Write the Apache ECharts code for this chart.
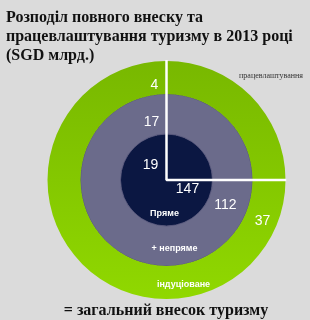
<!DOCTYPE html>
<html>
<head>
<meta charset="utf-8">
<script src="https://cdn.jsdelivr.net/npm/echarts@6/dist/echarts.min.js"></script>
<style>
  html, body { margin: 0; padding: 0; background: #dbdbdb; }
  #chart { width: 310px; height: 320px; }
</style>
</head>
<body>
<div id="chart"></div>
<script>
// рівні внеску: пряме -> непряме -> індуковане
const tiers = ['Пряме', '+ непряме', 'індуціоване']
const contribution = [147, 112, 37]
const employment = [19, 17, 4]
const employmentLabel = 'працевлаштування'
const titleText = 'Розподіл повного внеску та\nпрацевлаштування туризму в 2013 році\n(SGD млрд.)'
const footerText = '= загальний внесок туризму'

const center = [166.5, 180]
const rings = [[0, 46], [46, 86], [86, 119]]
const ringColors = [
  '#0b1742',
  '#6b6b8b',
  new echarts.graphic.LinearGradient(0, 0, 0, 1, [
    { offset: 0, color: '#78b800' },
    { offset: 1, color: '#90d800' },
  ]),
]
const nameOffsets = [[-2, 8], [8, 0], [17, -1]]
// де стоять числа відносно центру
const contribPos = [[21, 9], [59, 25], [96, 41]]
const employPos = [[-16, -15], [-15, -58], [-12, -95]]

const chart = echarts.init(document.getElementById('chart'))

const pies = tiers.map((name, i) => ({
  type: 'pie',
  center,
  radius: rings[i],
  silent: true,
  z: 2,
  startAngle: 90,
  itemStyle: {
    color: ringColors[i],
    borderColor: i === 1 ? '#55557a' : 'transparent',
    borderWidth: i === 1 ? 1 : 0,
  },
  label: {
    show: true,
    position: 'inside',
    color: '#fff',
    fontFamily: 'Liberation Sans',
    fontWeight: 'bold',
    fontSize: 9,
    offset: nameOffsets[i],
    formatter: '{b}',
  },
  labelLine: { show: false },
  data: [{ name, value: contribution[i] }],
}))

const numberTexts = []
contribution.forEach((v, i) => {
  numberTexts.push({
    type: 'text',
    x: center[0] + contribPos[i][0],
    y: center[1] + contribPos[i][1],
    z: 10,
    style: {
      text: String(v), fill: '#fff', fontSize: 14,
      fontFamily: 'Liberation Sans', align: 'center', verticalAlign: 'middle',
    },
  })
})
employment.forEach((v, i) => {
  numberTexts.push({
    type: 'text',
    x: center[0] + employPos[i][0],
    y: center[1] + employPos[i][1],
    z: 10,
    style: {
      text: String(v), fill: '#fff', fontSize: 14,
      fontFamily: 'Liberation Sans', align: 'center', verticalAlign: 'middle',
    },
  })
})

chart.setOption({
  backgroundColor: '#dbdbdb',
  animation: false,
  title: {
    text: titleText,
    left: 1,
    top: 3,
    textStyle: {
      fontFamily: 'Liberation Serif',
      fontWeight: 'bold',
      fontSize: 16,
      lineHeight: 19,
      color: '#111',
    },
  },
  polar: { center, radius: 120 },
  angleAxis: { type: 'value', min: 0, max: 360, startAngle: 90, show: false },
  radiusAxis: { type: 'value', min: 0, max: 120, show: false },
  graphic: [
    ...numberTexts,
    {
      type: 'text',
      x: 271,
      y: 76,
      style: {
        text: employmentLabel, fill: '#333', fontSize: 8,
        fontFamily: 'Liberation Serif', align: 'center', verticalAlign: 'middle',
      },
    },
    {
      type: 'text',
      x: 166,
      y: 311,
      style: {
        text: footerText, fill: '#111', fontSize: 16, fontWeight: 'bold',
        fontFamily: 'Liberation Serif', align: 'center', verticalAlign: 'middle',
      },
    },
  ],
  series: [
    ...pies,
    {
      // біла межа сектора працевлаштування
      type: 'line',
      coordinateSystem: 'polar',
      symbol: 'none',
      silent: true,
      z: 5,
      lineStyle: { color: '#fff', width: 2.5 },
      data: [[120, 0], [0, 0], [120, 90]],
    },
  ],
})
</script>
</body>
</html>
